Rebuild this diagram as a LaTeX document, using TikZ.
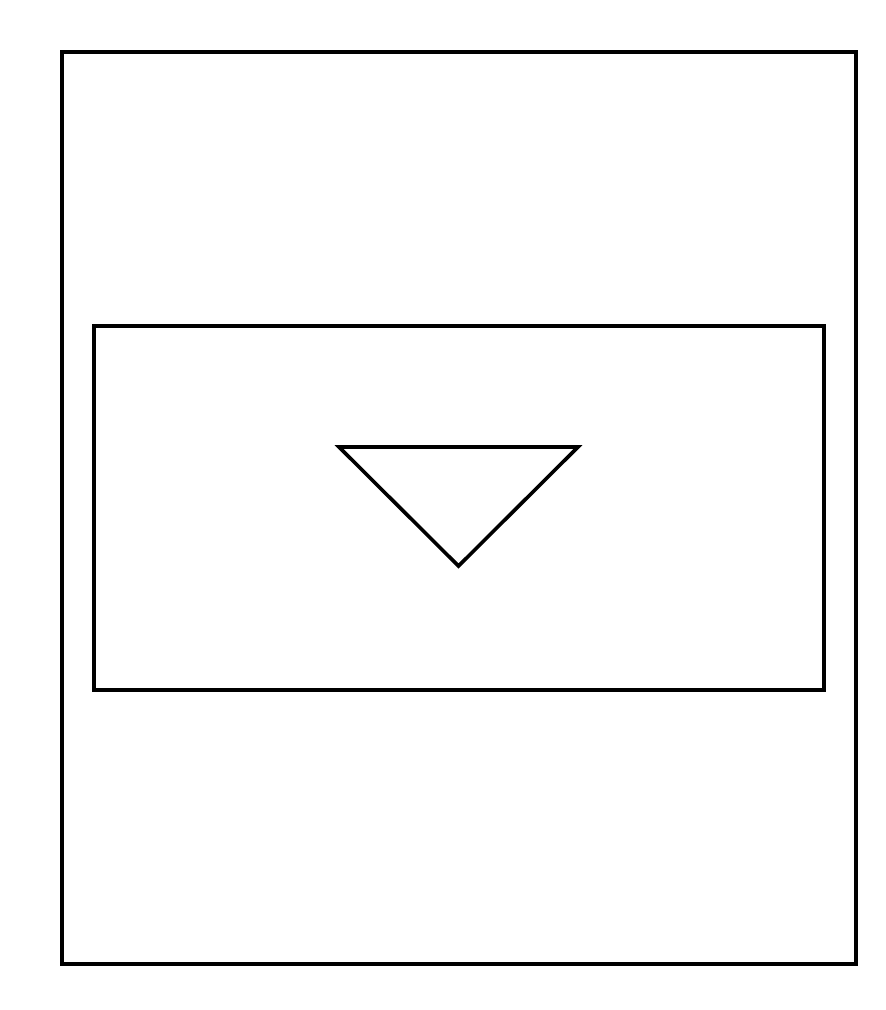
\documentclass[tikz,border=0pt]{standalone}
\begin{document}
\begin{tikzpicture}[x=1pt,y=-1pt,line width=3.6pt,
  frame/.style={draw=black,inner sep=0pt,outer sep=0pt,anchor=north west},
  tri/.style={draw=black,line join=miter}]
\useasboundingbox (0,0) rectangle (886,1010);
\fill[white] (0,0) rectangle (886,1010);
\node[frame,minimum width=794pt,minimum height=912pt] (outer) at (62,52) {};
\node[frame,minimum width=730pt,minimum height=364pt] (inner) at (94,326) {};
\coordinate (t1) at (339,447);
\coordinate (t2) at (578,447);
\coordinate (t3) at (458.5,566);
\draw[tri] (t1) -- (t2) -- (t3) -- cycle;
\end{tikzpicture}
\end{document}
